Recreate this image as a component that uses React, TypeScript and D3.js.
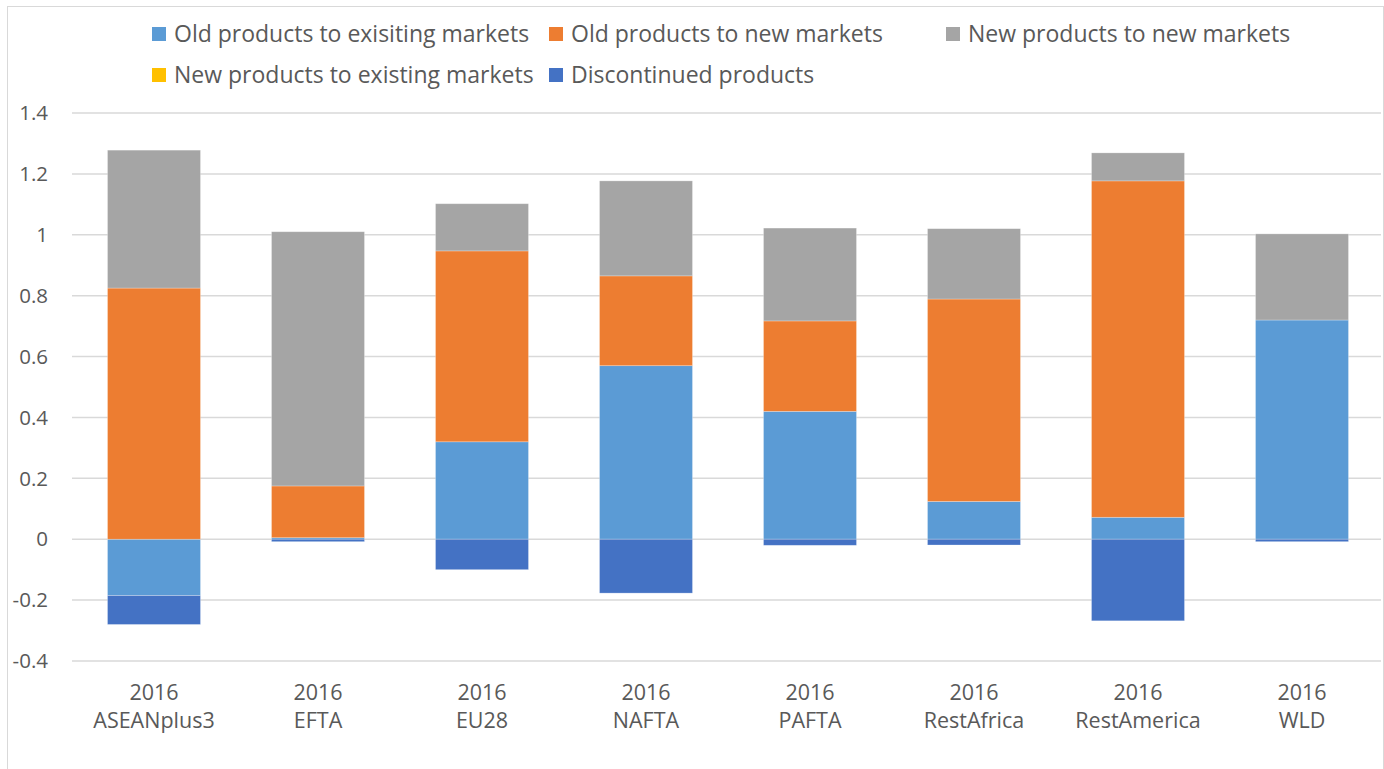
import React from "react";
import * as d3 from "d3";

const categories = ["ASEANplus3", "EFTA", "EU28", "NAFTA", "PAFTA", "RestAfrica", "RestAmerica", "WLD"];
const yearLabels = ["2016", "2016", "2016", "2016", "2016", "2016", "2016", "2016"];
const seriesNames = [
  "Old products to exisiting markets",
  "Old products to new markets",
  "New products to new markets",
  "New products to existing markets",
  "Discontinued products",
];
const seriesColors = ["#5B9BD5", "#ED7D31", "#A5A5A5", "#FFC000", "#4472C4"];
const oldExisting = [-0.185, 0.005, 0.32, 0.57, 0.42, 0.124, 0.072, 0.72];
const oldNew = [0.825, 0.17, 0.627, 0.295, 0.297, 0.665, 1.105, 0];
const newNew = [0.453, 0.835, 0.155, 0.312, 0.305, 0.231, 0.092, 0.283];
const newExisting = [0, 0, 0, 0, 0, 0, 0, 0];
const discontinued = [-0.095, -0.008, -0.1, -0.177, -0.02, -0.019, -0.268, -0.008];
const yTicks = [-0.4, -0.2, 0, 0.2, 0.4, 0.6, 0.8, 1, 1.2, 1.4];

const W = 1384;
const H = 769;
const FONT = "'Open Sans', sans-serif";
const TXT = "#595959";

export default function App() {
  const seriesValues = [oldExisting, oldNew, newNew, newExisting, discontinued];
  const rows = categories.map((c, i) => {
    const r: any = { cat: c };
    seriesNames.forEach((s, k) => (r[s] = seriesValues[k][i]));
    return r;
  });
  const stacked = d3.stack<any>().keys(seriesNames).offset(d3.stackOffsetDiverging)(rows);

  const x = d3.scaleBand<string>().domain(categories).range([72, 1384]).paddingInner(0.433).paddingOuter(0.2165);
  const y = d3.scaleLinear().domain([-0.4, 1.4]).range([661, 113]);

  const legendItems = [
    { name: seriesNames[0], color: seriesColors[0], x: 152, y: 34 },
    { name: seriesNames[1], color: seriesColors[1], x: 549, y: 34 },
    { name: seriesNames[2], color: seriesColors[2], x: 946, y: 34 },
    { name: seriesNames[3], color: seriesColors[3], x: 152, y: 75 },
    { name: seriesNames[4], color: seriesColors[4], x: 549, y: 75 },
  ];

  return (
    <div style={{ position: "absolute", left: 0, top: 0 }}>
      <svg width={W} height={H} style={{ display: "block", background: "#fff" }}>
        <rect x={7.5} y={6.5} width={1376} height={H + 10} fill="#fff" stroke="#d9d9d9" strokeWidth={1} />
        {yTicks.map((t) => (
          <g key={t}>
            <line x1={72} x2={1381} y1={y(t)} y2={y(t)} stroke="#d9d9d9" strokeWidth={1.5} />
            <text x={48} y={y(t)} dy="0.35em" textAnchor="end" fontFamily={FONT} fontSize={20.5} fill={TXT}>
              {t}
            </text>
          </g>
        ))}
        {stacked.map((s, k) => (
          <g key={s.key} fill={seriesColors[k]}>
            {s.map((d, i) => {
              const y0 = y(Math.max(d[0], d[1]));
              const y1 = y(Math.min(d[0], d[1]));
              if (y1 - y0 <= 0) return null;
              return (
                <rect
                  key={i}
                  x={x(categories[i])!}
                  width={x.bandwidth()}
                  y={y0}
                  height={y1 - y0}
                  stroke="#ffffff"
                  strokeOpacity={0.35}
                  strokeWidth={0.75}
                />
              );
            })}
          </g>
        ))}
        {categories.map((c, i) => {
          const cx = x(c)! + x.bandwidth() / 2;
          return (
            <g key={c}>
              <text x={cx} y={692} dy="0.35em" textAnchor="middle" fontFamily={FONT} fontSize={21.5} fill={TXT}>
                {yearLabels[i]}
              </text>
              <text x={cx} y={720} dy="0.35em" textAnchor="middle" fontFamily={FONT} fontSize={21.5} fill={TXT}>
                {c}
              </text>
            </g>
          );
        })}
        {legendItems.map((l) => (
          <g key={l.name}>
            <rect x={l.x} y={l.y - 7} width={14} height={14} fill={l.color} />
            <text x={l.x + 22} y={l.y} dy="0.35em" fontFamily={FONT} fontSize={23} fill={TXT}>
              {l.name}
            </text>
          </g>
        ))}
      </svg>
    </div>
  );
}
